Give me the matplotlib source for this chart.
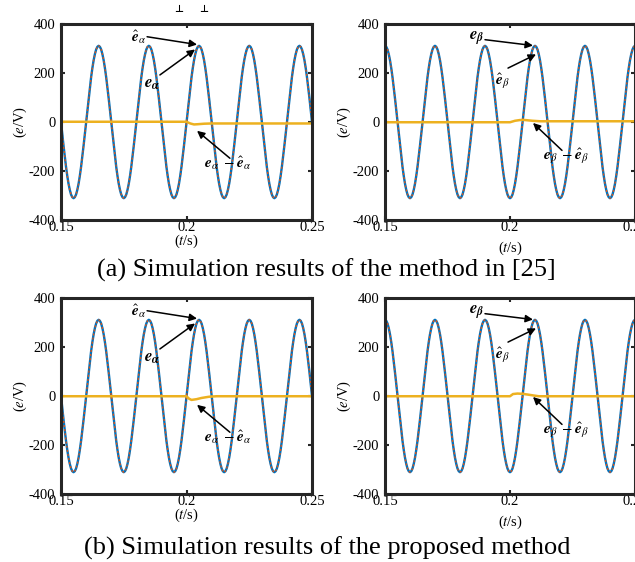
import numpy as np
import matplotlib
matplotlib.use("Agg")
import matplotlib.pyplot as plt

plt.rcParams["font.family"] = ["Liberation Serif", "DejaVu Serif"]
plt.rcParams["mathtext.fontset"] = "stix"
plt.rcParams["axes.unicode_minus"] = False

# one 20 ms period of the back-EMF, sampled every 0.5 ms (V)
alpha_cycle = [0, -49, -96, -141, -183, -220, -252, -277, -296, -307,
               -311, -307, -296, -277, -252, -220, -183, -141, -96, -49,
               0, 49, 96, 141, 183, 220, 252, 277, 296, 307,
               311, 307, 296, 277, 252, 220, 183, 141, 96, 49]
beta_cycle = [311, 307, 296, 277, 252, 220, 183, 141, 96, 49,
              0, -49, -96, -141, -183, -220, -252, -277, -296, -307,
              -311, -307, -296, -277, -252, -220, -183, -141, -96, -49,
              0, 49, 96, 141, 183, 220, 252, 277, 296, 307]
n_cycles = 5
t_start, dt = 0.15, 0.0005

# estimation error e - e_hat (time in s, value in V)
err_a_alpha_t = [0.15, 0.2, 0.2015, 0.203, 0.2045, 0.207, 0.21, 0.25]
err_a_alpha_v = [1, 1, -6, -10, -9, -7, -6, -6]
err_a_beta_t = [0.15, 0.2, 0.202, 0.204, 0.206, 0.209, 0.212, 0.25]
err_a_beta_v = [-1, -1, 5, 8, 8, 5, 3, 3]
err_b_alpha_t = [0.15, 0.2, 0.201, 0.202, 0.204, 0.206, 0.209, 0.212, 0.25]
err_b_alpha_v = [-1, -1, -11, -16, -13, -8, -3, -1, -1]
err_b_beta_t = [0.15, 0.2, 0.2012, 0.203, 0.2048, 0.207, 0.2095, 0.2115, 0.25]
err_b_beta_v = [-1, -1, 8, 10, 9, 6, 2, -1, -1]

xticks = [0.15, 0.2, 0.25]
xticklabels = ["0.15", "0.2", "0.25"]
yticks = [-400, -200, 0, 200, 400]
yticklabels = ["-400", "-200", "0", "200", "400"]


def wave(cycle):
    vals = np.array(list(cycle) * n_cycles + [cycle[0]], dtype=float)
    t = t_start + dt * np.arange(len(vals))
    return t, vals


def panel(ax, cycle, err_t, err_v, xlab_pad):
    t, e = wave(cycle)
    ax.plot(t, e, color="#0072BD", lw=1.7)
    ax.plot(t, e, color="#D95319", lw=1.0, ls=(0, (1.5, 1.5)))
    ax.plot(err_t, err_v, color="#EDB120", lw=1.8)
    ax.set_xlim(0.15, 0.25)
    ax.set_ylim(-400, 400)
    ax.set_xticks(xticks)
    ax.set_xticklabels(xticklabels)
    ax.set_yticks(yticks)
    ax.set_yticklabels(yticklabels)
    ax.tick_params(direction="in", length=3, width=1.5, labelsize=10.5,
                   top=True, right=True, color="#262626")
    ax.tick_params(axis="x", pad=1)
    ax.tick_params(axis="y", pad=4)
    for s in ax.spines.values():
        s.set_linewidth(2.2)
        s.set_color("#262626")
    ax.set_xlabel(r"($\it{t}$/s)", fontsize=10.5, labelpad=xlab_pad)
    ax.set_ylabel(r"($\it{e}$/V)", fontsize=10.5, labelpad=0)


def arrow(ax, tip, tail):
    ax.annotate("", xy=tip, xytext=tail,
                arrowprops=dict(arrowstyle="-|>", color="k", lw=1.1,
                                mutation_scale=11, shrinkA=0, shrinkB=0))


def notes_alpha(ax):
    ax.text(0.1807, 344, r"$\hat{\boldsymbol{e}}_{\alpha}$", fontsize=11,
            ha="center", va="center")
    arrow(ax, (0.2042, 316), (0.1843, 348))
    ax.text(0.1862, 156, r"$\boldsymbol{e}_{\boldsymbol{\alpha}}$", fontsize=12,
            ha="center", va="center")
    arrow(ax, (0.2034, 296), (0.1894, 192))
    ax.text(0.2165, -170, r"$\boldsymbol{e}_{\alpha}\ -\hat{\boldsymbol{e}}_{\alpha}$",
            fontsize=11, ha="center", va="center")
    arrow(ax, (0.2042, -36), (0.2173, -148))


def notes_beta(ax):
    ax.text(0.1868, 344, r"$\boldsymbol{e}_{\boldsymbol{\beta}}$", fontsize=12,
            ha="center", va="center")
    arrow(ax, (0.2092, 312), (0.1900, 336))
    ax.text(0.1968, 166, r"$\hat{\boldsymbol{e}}_{\beta}$", fontsize=11,
            ha="center", va="center")
    arrow(ax, (0.2104, 276), (0.1992, 220))
    ax.text(0.2224, -142, r"$\boldsymbol{e}_{\beta}\ -\hat{\boldsymbol{e}}_{\beta}$",
            fontsize=11, ha="center", va="center")
    arrow(ax, (0.2092, -4), (0.2208, -116))


fig = plt.figure(figsize=(6.35, 5.62), dpi=100)
W, H = 635, 562

ax1 = fig.add_axes([61 / W, 342 / H, 251 / W, 196 / H])
ax2 = fig.add_axes([385 / W, 342 / H, 250 / W, 196 / H])
ax3 = fig.add_axes([61 / W, 68 / H, 251 / W, 196 / H])
ax4 = fig.add_axes([385 / W, 68 / H, 250 / W, 196 / H])

panel(ax1, alpha_cycle, err_a_alpha_t, err_a_alpha_v, -1)
panel(ax2, beta_cycle, err_a_beta_t, err_a_beta_v, 4)
panel(ax3, alpha_cycle, err_b_alpha_t, err_b_alpha_v, -1)
panel(ax4, beta_cycle, err_b_beta_t, err_b_beta_v, 4)
notes_alpha(ax1)
notes_alpha(ax3)
notes_beta(ax2)
notes_beta(ax4)

fig.text(326 / W, 1 - 270 / H, "(a) Simulation results of the method in [25]",
         fontsize=19, ha="center", va="center")
fig.text(327 / W, 1 - 548 / H, "(b) Simulation results of the proposed method",
         fontsize=19, ha="center", va="center")

# bottoms of the previous line's glyphs, cut off by the top edge
for xp in (179, 204):
    fig.text(xp / W, 1 - 12 / H, "\u22a5", fontsize=7, fontweight="bold",
             family="DejaVu Sans", ha="center", va="baseline")

fig.savefig("out.png", dpi=100)
